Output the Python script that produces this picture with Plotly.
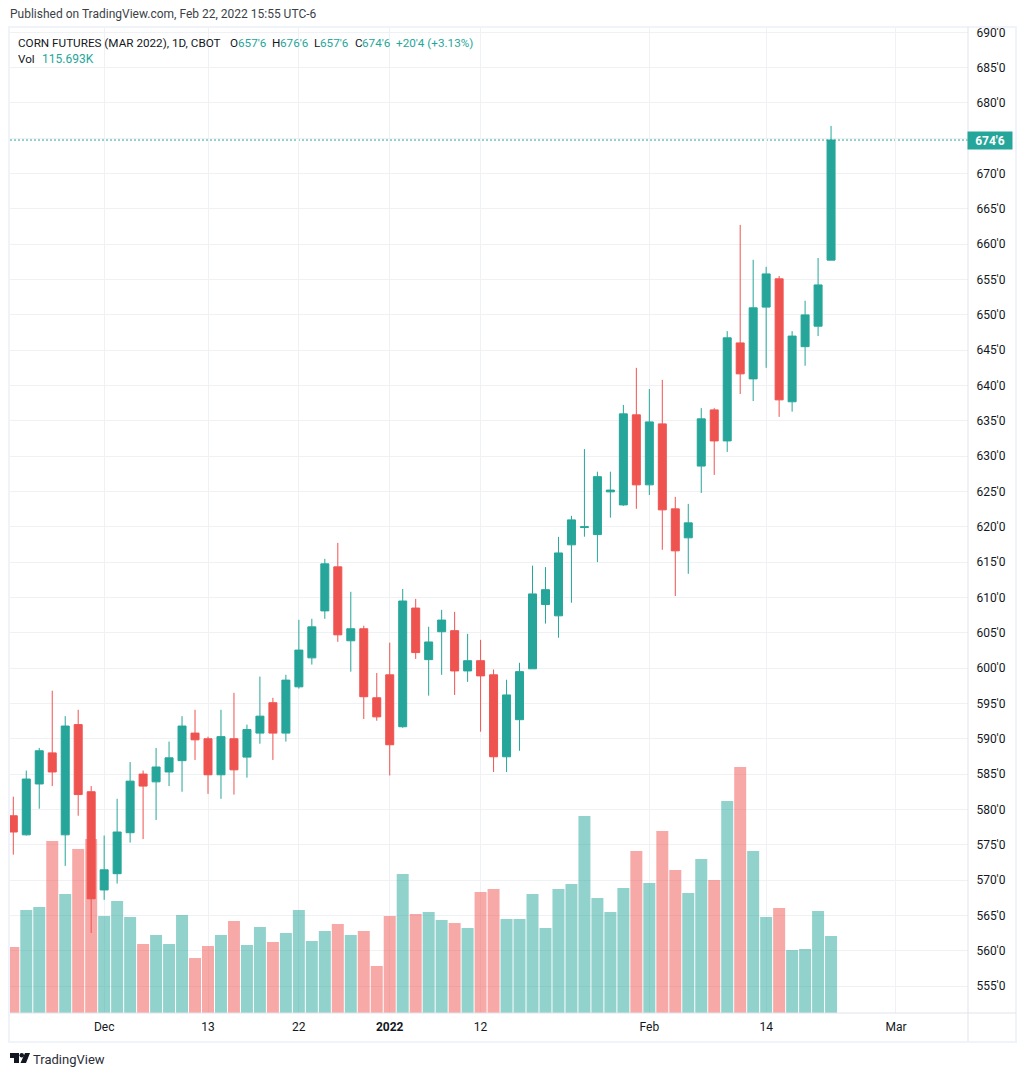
import plotly.graph_objects as go

# daily bars, corn futures mar 2022
days = list(range(64))
opens = [579.1, 576.4, 583.6, 588.0, 576.4, 592.0, 582.5, 568.6, 570.9, 576.7, 585.0, 583.9, 585.3, 586.9, 590.8, 590.0,
         584.9, 590.0, 587.4, 590.8, 595.1, 590.8, 597.35, 601.45, 608.1, 614.33, 603.87, 605.57, 595.8, 599.05, 591.7, 608.5,
         601.2, 605.15, 605.3, 599.6, 601.05, 599.05, 587.45, 592.7, 599.9, 609.0, 607.4, 617.45, 619.9, 618.9, 624.95, 623.1,
         635.85, 625.94, 634.57, 622.54, 618.44, 628.6, 636.55, 632.16, 646.03, 640.94, 651.1, 655.1, 637.7, 645.5, 648.4, 657.75]
highs = [581.8, 585.5, 588.7, 596.8, 593.2, 594.1, 583.3, 576.3, 581.5, 586.7, 585.5, 588.7, 589.6, 593.2, 594.1, 590.3,
         594.1, 596.5, 592.0, 598.8, 595.8, 599.05, 606.84, 606.98, 615.47, 617.73, 610.8, 606.0, 599.3, 603.6, 611.2, 609.8,
         605.85, 608.25, 607.97, 604.85, 604.0, 599.8, 598.35, 600.75, 614.5, 614.3, 618.58, 621.55, 631.0, 627.8, 627.8, 637.25,
         642.5, 639.5, 640.8, 624.24, 623.25, 636.8, 636.8, 647.7, 662.73, 657.8, 656.8, 655.5, 647.7, 652.0, 658.06, 676.75]
lows = [573.6, 576.3, 580.1, 583.3, 572.0, 579.1, 562.5, 567.2, 569.5, 575.3, 575.8, 578.5, 583.3, 582.5, 587.0, 582.2,
        581.5, 582.1, 584.5, 589.3, 587.0, 589.6, 597.1, 600.5, 606.98, 603.72, 599.5, 592.8, 592.55, 584.8, 591.55, 601.3,
        596.1, 599.05, 596.2, 598.05, 591.0, 585.3, 585.3, 588.3, 599.9, 606.3, 604.3, 609.25, 618.6, 615.0, 621.3, 622.97,
        622.55, 624.5, 616.75, 610.2, 613.35, 624.8, 627.35, 630.6, 638.8, 637.8, 642.5, 635.56, 636.3, 642.8, 647.0, 657.75]
closes = [576.8, 584.3, 588.3, 585.3, 591.8, 582.1, 567.35, 571.45, 576.8, 584.0, 583.3, 586.0, 587.3, 591.8, 589.85, 584.9,
          590.3, 585.6, 591.3, 593.2, 590.8, 598.3, 602.55, 605.84, 614.76, 604.71, 605.57, 595.95, 593.1, 589.15, 609.5, 602.2,
          603.7, 606.8, 599.6, 601.05, 598.9, 587.45, 596.2, 599.5, 610.5, 611.1, 616.3, 620.98, 620.0, 627.1, 625.2, 635.99,
          625.94, 634.85, 622.4, 616.6, 620.56, 635.28, 632.16, 646.75, 641.65, 651.0, 655.8, 637.97, 647.0, 650.0, 654.24, 674.75]
volumes = [99.2, 154.7, 159.3, 258.4, 178.8, 246.4, 261.4, 145.7, 168.3, 144.2, 103.7, 117.2, 103.7, 147.2, 82.6, 100.7,
           117.2, 138.2, 102.2, 129.2, 106.7, 120.2, 154.7, 108.2, 123.2, 133.7, 117.2, 123.2, 70.6, 145.7, 208.8, 148.7,
           151.7, 139.7, 135.2, 127.7, 181.8, 186.3, 141.2, 141.2, 178.8, 127.7, 186.3, 193.8, 296.0, 172.8, 151.7, 187.8,
           243.4, 195.3, 273.4, 214.8, 180.3, 231.4, 199.8, 318.5, 369.6, 243.4, 144.2, 157.8, 94.7, 96.2, 153.2, 115.693]

price_ticks = list(range(555, 695, 5))
# the 675 label sits behind the last price tag, so it stays blank
price_labels = ["" if p == 675 else f"{p}'0" for p in price_ticks]
time_ticks = [7, 15, 22, 29, 36, 49, 58, 68]
time_labels = ["Dec", "13", "22", "<b>2022</b>", "12", "Feb", "14", "Mar"]

GREEN = "#26a69a"
RED = "#ef5350"
TEXT = "#131722"
GRID = "#f0f1f4"
FRAME = "#f0f3fa"
EDGE = "#e0e3eb"
FONT = "Roboto"

W, H = 1026, 1076
L, R, T, B = 10, 968, 27, 1013


# page pixels to paper coordinates, for the chrome around the plot
def px(x):
    return (x - L) / (R - L)


def py(y):
    return (B - y) / (B - T)


vol_colors = ["rgba(239,83,80,0.5)" if c < o else "rgba(38,166,154,0.5)" for o, c in zip(opens, closes)]

fig = go.Figure()
fig.add_trace(go.Bar(x=days, y=volumes, marker=dict(color=vol_colors, line=dict(width=0)), yaxis="y", hoverinfo="skip"))
fig.add_trace(go.Candlestick(
    x=days, open=opens, high=highs, low=lows, close=closes, yaxis="y2",
    increasing=dict(line=dict(color=GREEN, width=1), fillcolor=GREEN),
    decreasing=dict(line=dict(color=RED, width=1), fillcolor=RED),
    whiskerwidth=0,
))


def label(x, y, text, color=TEXT, size=11.7):
    # annotations pad their text by 2px, taken back here
    return dict(xref="paper", yref="paper", x=px(x - 2), y=py(y), text=text, showarrow=False, xanchor="left",
                yanchor="middle", font=dict(family=FONT, size=size, color=color))


annotations = [
    label(10, 14, "Published on TradingView.com, Feb 22, 2022 15:55 UTC-6", color="#3c3f47", size=12),
    label(18, 43, "CORN FUTURES (MAR 2022), 1D, CBOT"),
    label(230, 43, "O"), label(238, 43, "657'6", color=GREEN),
    label(272, 43, "H"), label(280, 43, "676'6", color=GREEN),
    label(314, 43, "L"), label(320, 43, "657'6", color=GREEN),
    label(355, 43, "C"), label(362, 43, "674'6", color=GREEN),
    label(396, 43, "+20'4 (+3.13%)", color=GREEN),
    label(18, 59, "Vol"), label(42, 59, "115.693K", color=GREEN, size=12),
    label(33, 1059, "TradingView", color="#2a2e39", size=13),
    dict(xref="paper", yref="y2", x=px(990), y=closes[-1], text="<b>674'6</b>", showarrow=False, xanchor="center",
         yanchor="middle", width=44, height=17, bgcolor=GREEN, borderpad=0, font=dict(family=FONT, size=12, color="white")),
]

shapes = [
    dict(type="line", xref="paper", yref="y2", x0=0, x1=1, y0=closes[-1], y1=closes[-1], layer="below",
         line=dict(color=GREEN, width=1, dash="2px,2px")),
    dict(type="rect", xref="paper", yref="paper", x0=px(9), x1=px(1016), y0=py(27), y1=py(1042), line=dict(color=FRAME, width=2)),
    dict(type="line", xref="paper", yref="paper", x0=px(968), x1=px(968), y0=py(27), y1=py(1041), line=dict(color=EDGE, width=1)),
    dict(type="line", xref="paper", yref="paper", x0=px(10), x1=px(1016), y0=py(1013), y1=py(1013), line=dict(color=EDGE, width=1)),
    # tradingview logo
    dict(type="path", xref="paper", yref="paper", line=dict(width=0), fillcolor=TEXT,
         path=f"M{px(10)},{py(1053)} L{px(19)},{py(1053)} L{px(19)},{py(1063)} L{px(14)},{py(1063)} L{px(14)},{py(1058)} L{px(10)},{py(1058)} Z"),
    dict(type="circle", xref="paper", yref="paper", line=dict(width=0), fillcolor=TEXT,
         x0=px(19.5), x1=px(24), y0=py(1053), y1=py(1057.5)),
    dict(type="path", xref="paper", yref="paper", line=dict(width=0), fillcolor=TEXT,
         path=f"M{px(25)},{py(1053)} L{px(30)},{py(1053)} L{px(26)},{py(1063)} L{px(20.5)},{py(1063)} Z"),
]

fig.update_layout(
    width=W, height=H,
    margin=dict(l=L, r=W - R, t=T, b=H - B),
    paper_bgcolor="white", plot_bgcolor="white",
    showlegend=False, bargap=0.077, boxgap=0.12,
    font=dict(family=FONT, size=12, color=TEXT),
    annotations=annotations, shapes=shapes,
    xaxis=dict(range=[-0.254, 73.55], tickmode="array", tickvals=time_ticks, ticktext=time_labels,
               showgrid=True, gridcolor=GRID, gridwidth=1, zeroline=False, showline=False,
               ticks="outside", ticklen=3, tickcolor="rgba(0,0,0,0)", rangeslider=dict(visible=False)),
    yaxis=dict(range=[0, 1481.5], visible=False, showgrid=False, zeroline=False),
    yaxis2=dict(range=[551.18, 690.75], overlaying="y", side="right", tickmode="array", tickvals=price_ticks,
                ticktext=price_labels, showgrid=True, gridcolor=GRID, gridwidth=1, zeroline=False, showline=False,
                ticks="outside", ticklen=5, tickcolor="rgba(0,0,0,0)"),
)

fig.write_html("out.html", config={"displayModeBar": False}, post_script="document.body.style.margin='0';")
